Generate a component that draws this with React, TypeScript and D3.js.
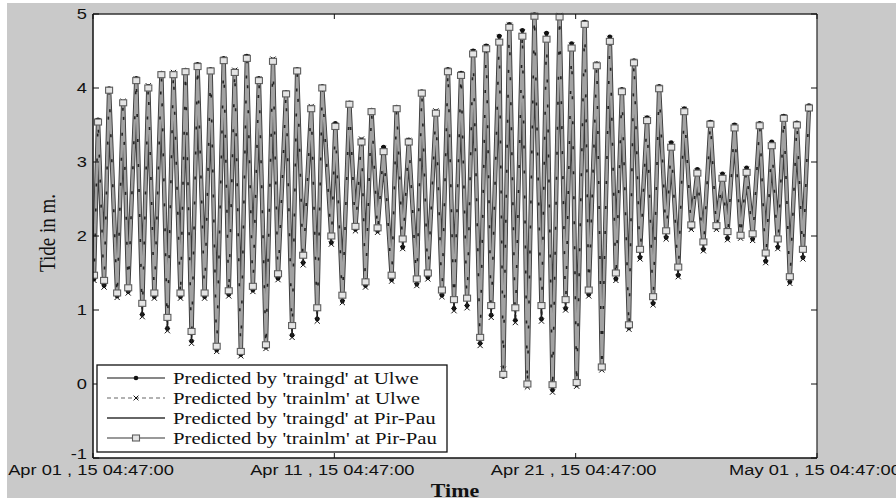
import React from "react";
import * as d3 from "d3";

// Times in hours after Apr 01, 15 04:47:00
const lowHours = [1, 11, 24, 35, 49, 61, 74, 87, 98, 111, 123, 135, 147, 159, 172, 184, 198, 209, 223, 237, 248, 261, 271, 283, 297, 308, 322, 333, 347, 359, 372, 385, 396, 408, 420, 432, 446, 457, 470, 481, 493, 506, 520, 533, 544, 557, 570, 582, 595, 607, 620, 631, 644, 656, 669, 681, 693, 706];
const highHours = [5, 16, 30, 43, 55, 68, 80, 92, 104, 117, 130, 141, 153, 165, 179, 192, 203, 217, 228, 241, 255, 267, 277, 289, 302, 314, 327, 341, 353, 366, 378, 391, 404, 414, 427, 439, 451, 464, 476, 489, 501, 514, 526, 538, 551, 563, 575, 588, 601, 614, 626, 638, 650, 663, 675, 687, 700, 712];

// Low-water values (m)
const lowUlweGd = [1.42, 1.33, 1.19, 1.25, 0.94, 1.18, 0.75, 1.18, 0.58, 1.18, 0.46, 1.21, 0.40, 1.27, 0.50, 1.43, 0.66, 1.64, 0.88, 1.91, 1.12, 2.09, 1.33, 2.07, 1.41, 1.85, 1.35, 1.44, 1.20, 1.02, 1.06, 0.55, 0.93, 0.10, 0.86, -0.02, 0.88, -0.08, 1.02, -0.01, 1.21, 0.21, 1.42, 0.76, 1.71, 1.09, 1.98, 1.47, 2.11, 1.82, 2.11, 1.97, 1.99, 1.96, 1.66, 1.85, 1.38, 1.71];
const lowUlweLm = [1.40, 1.31, 1.17, 1.23, 0.91, 1.16, 0.72, 1.16, 0.55, 1.16, 0.44, 1.19, 0.38, 1.25, 0.48, 1.41, 0.63, 1.61, 0.85, 1.89, 1.10, 2.07, 1.31, 2.05, 1.39, 1.83, 1.33, 1.42, 1.18, 0.99, 1.03, 0.52, 0.90, 0.20, 0.83, -0.04, 0.85, -0.11, 1.00, -0.03, 1.19, 0.19, 1.40, 0.74, 1.69, 1.07, 1.96, 1.45, 2.09, 1.80, 2.09, 1.95, 1.97, 1.94, 1.64, 1.83, 1.36, 1.69];
const lowPirPauGd = [1.45, 1.38, 1.21, 1.28, 1.05, 1.21, 0.86, 1.21, 0.68, 1.22, 0.49, 1.24, 0.43, 1.30, 0.52, 1.47, 0.75, 1.71, 0.99, 1.98, 1.18, 2.12, 1.36, 2.10, 1.45, 1.93, 1.40, 1.48, 1.25, 1.11, 1.13, 0.61, 1.02, 0.12, 0.99, 0.00, 1.02, -0.03, 1.11, 0.01, 1.25, 0.22, 1.48, 0.79, 1.79, 1.15, 2.05, 1.55, 2.14, 1.89, 2.13, 2.04, 2.00, 2.01, 1.74, 1.93, 1.43, 1.79];
const lowPirPauLm = [1.47, 1.40, 1.23, 1.30, 1.09, 1.23, 0.90, 1.23, 0.71, 1.23, 0.51, 1.26, 0.44, 1.32, 0.53, 1.49, 0.79, 1.74, 1.03, 2.00, 1.20, 2.13, 1.38, 2.11, 1.47, 1.96, 1.42, 1.50, 1.27, 1.14, 1.16, 0.63, 1.06, 0.13, 1.03, 0.00, 1.06, -0.01, 1.14, 0.02, 1.27, 0.23, 1.50, 0.80, 1.82, 1.18, 2.07, 1.58, 2.15, 1.92, 2.14, 2.06, 2.01, 2.03, 1.77, 1.96, 1.45, 1.82];

// High-water values (m)
const highUlweGd = [3.57, 3.99, 3.81, 4.13, 4.02, 4.20, 4.20, 4.24, 4.32, 4.25, 4.40, 4.23, 4.43, 4.13, 4.38, 3.94, 4.25, 3.74, 4.02, 3.52, 3.80, 3.30, 3.70, 3.20, 3.74, 3.30, 3.95, 3.68, 4.25, 4.20, 4.50, 4.57, 4.70, 4.86, 4.78, 4.99, 4.74, 4.97, 4.60, 4.89, 4.33, 4.69, 3.98, 4.37, 3.60, 4.02, 3.26, 3.72, 2.90, 3.54, 2.84, 3.50, 2.92, 3.52, 3.27, 3.62, 3.53, 3.76];
const highUlweLm = [3.56, 3.98, 3.82, 4.12, 4.03, 4.19, 4.21, 4.23, 4.31, 4.24, 4.39, 4.24, 4.42, 4.12, 4.39, 3.93, 4.24, 3.75, 4.01, 3.50, 3.79, 3.31, 3.69, 3.18, 3.73, 3.29, 3.94, 3.69, 4.24, 4.19, 4.49, 4.56, 4.68, 4.85, 4.76, 4.98, 4.72, 4.98, 4.58, 4.88, 4.32, 4.67, 3.97, 4.36, 3.59, 4.01, 3.24, 3.71, 2.88, 3.53, 2.82, 3.49, 2.90, 3.51, 3.25, 3.61, 3.52, 3.75];
const highPirPauGd = [3.55, 3.98, 3.80, 4.11, 4.01, 4.19, 4.19, 4.23, 4.30, 4.24, 4.38, 4.22, 4.41, 4.11, 4.37, 3.93, 4.24, 3.73, 4.01, 3.50, 3.79, 3.29, 3.69, 3.17, 3.73, 3.28, 3.94, 3.67, 4.23, 4.18, 4.48, 4.55, 4.66, 4.84, 4.74, 4.98, 4.70, 4.96, 4.57, 4.87, 4.31, 4.66, 3.96, 4.35, 3.58, 4.00, 3.23, 3.70, 2.87, 3.52, 2.81, 3.48, 2.89, 3.50, 3.24, 3.60, 3.51, 3.74];
const highPirPauLm = [3.54, 3.97, 3.80, 4.10, 4.00, 4.18, 4.18, 4.22, 4.29, 4.23, 4.37, 4.21, 4.40, 4.10, 4.36, 3.92, 4.23, 3.72, 4.00, 3.48, 3.78, 3.27, 3.68, 3.14, 3.72, 3.27, 3.93, 3.66, 4.22, 4.17, 4.46, 4.53, 4.62, 4.82, 4.70, 4.97, 4.66, 4.96, 4.54, 4.86, 4.30, 4.63, 3.95, 4.34, 3.56, 3.99, 3.20, 3.68, 2.85, 3.51, 2.78, 3.46, 2.86, 3.49, 3.22, 3.59, 3.50, 3.73];

const seriesNames = [
  "Predicted by 'traingd' at Ulwe",
  "Predicted by 'trainlm' at Ulwe",
  "Predicted by 'traingd' at Pir-Pau",
  "Predicted by 'trainlm' at Pir-Pau",
];
const yTicks = [-1, 0, 1, 2, 3, 4, 5];
const xTickDays = [0, 10, 20, 30];
const monthNames = ["Jan", "Feb", "Mar", "Apr", "May", "Jun"];

const START = new Date(2015, 3, 1, 4, 47, 0);
const HOUR = 3600 * 1000;

type Pt = { t: Date; v: number };
function merge(lows: number[], highs: number[]): Pt[] {
  const pts: Pt[] = [];
  lows.forEach((v, i) => pts.push({ t: new Date(START.getTime() + lowHours[i] * HOUR), v }));
  highs.forEach((v, i) => pts.push({ t: new Date(START.getTime() + highHours[i] * HOUR), v }));
  pts.sort((a, b) => a.t.getTime() - b.t.getTime());
  return pts;
}

const L = 93, R = 817, T = 14, B = 458;
const SX = 1.22;

function fmt(d: Date) {
  const dd = String(d.getDate()).padStart(2, "0");
  const hh = String(d.getHours()).padStart(2, "0");
  const mm = String(d.getMinutes()).padStart(2, "0");
  return `${monthNames[d.getMonth()]} ${dd} , ${String(d.getFullYear()).slice(2)} ${hh}:${mm}:00`;
}

export default function App() {
  const x = d3.scaleTime().domain([START, new Date(START.getTime() + 720 * HOUR)]).range([L, R]);
  const y = d3.scaleLinear().domain([-1, 5]).range([B, T]);
  const line = d3.line<Pt>().x((d) => x(d.t)).y((d) => y(d.v));

  const ulweGd = merge(lowUlweGd, highUlweGd);
  const ulweLm = merge(lowUlweLm, highUlweLm);
  const pirGd = merge(lowPirPauGd, highPirPauGd);
  const pirLm = merge(lowPirPauLm, highPirPauLm);

  const sans = "'Liberation Sans', Arial, sans-serif";
  const serif = "'Liberation Serif', 'Times New Roman', serif";

  const xMark = (cx: number, cy: number, k: string, s = 2.6) => (
    <path key={k} d={`M${cx - s},${cy - s}L${cx + s},${cy + s}M${cx - s},${cy + s}L${cx + s},${cy - s}`} stroke="#111" strokeWidth={1} />
  );
  const sq = (cx: number, cy: number, k: string) => (
    <rect key={k} x={cx - 3.5} y={cy - 3} width={7} height={6} fill="#e4e4e4" stroke="#5e5e5e" strokeWidth={1.1} />
  );

  const legendRows = [378, 398, 418, 438];

  return (
    <svg width={896} height={502} style={{ position: "absolute", left: 0, top: 0 }}>
      <rect x={0} y={0} width={896} height={502} fill="#fff" />
      <rect x={7} y={3} width={889} height={495} fill="#c9c9c9" />
      <rect x={L} y={T} width={R - L} height={B - T} fill="#fff" />
      <defs>
        <clipPath id="plotclip">
          <rect x={L} y={T - 4} width={R - L} height={B - T + 4} />
        </clipPath>
      </defs>
      <g clipPath="url(#plotclip)">
        <path d={line(ulweGd) || ""} fill="none" stroke="#111" strokeWidth={1.4} />
        {ulweGd.map((d, i) => <circle key={"a" + i} cx={x(d.t)} cy={y(d.v)} r={2.4} fill="#111" />)}
        <path d={line(ulweLm) || ""} fill="none" stroke="#222" strokeWidth={1.3} strokeDasharray="4,2" />
        {ulweLm.map((d, i) => xMark(x(d.t), y(d.v), "b" + i))}
        <path d={line(pirGd) || ""} fill="none" stroke="#3a3a3a" strokeWidth={4.4} strokeLinejoin="miter" strokeMiterlimit={1.5} />
        <path d={line(pirLm) || ""} fill="none" stroke="#a2a2a2" strokeWidth={2.6} strokeLinejoin="miter" strokeMiterlimit={1.5} />
        <path d={line(ulweLm) || ""} fill="none" stroke="#222" strokeWidth={1.6} strokeDasharray="3,22" strokeDashoffset={6} />
        {pirLm.map((d, i) => sq(x(d.t), y(d.v), "c" + i))}
      </g>

      {/* axes box */}
      <line x1={L} y1={T} x2={R} y2={T} stroke="#333" strokeWidth={1.3} />
      <line x1={R} y1={T} x2={R} y2={B} stroke="#333" strokeWidth={1.3} />
      <line x1={L} y1={T} x2={L} y2={B} stroke="#111" strokeWidth={1.5} />
      <line x1={L} y1={B} x2={R} y2={B} stroke="#111" strokeWidth={1.5} />

      {yTicks.map((t) => (
        <g key={"y" + t}>
          <line x1={L} x2={L + 6} y1={y(t)} y2={y(t)} stroke="#111" />
          <line x1={R - 6} x2={R} y1={y(t)} y2={y(t)} stroke="#111" />
          <text transform={`translate(${87},${y(t) + (t === -1 ? 1 : 5)}) scale(${SX},1)`} textAnchor="end" fontFamily={sans} fontSize={15} fill="#111">
            {t}
          </text>
        </g>
      ))}
      {xTickDays.map((dd) => {
        const d = new Date(START.getTime() + dd * 24 * HOUR);
        const px = x(d);
        return (
          <g key={"x" + dd}>
            <line x1={px} x2={px} y1={B} y2={B - 5} stroke="#111" />
            <line x1={px} x2={px} y1={T} y2={T + 5} stroke="#111" />
            <text transform={`translate(${px - 2},${475}) scale(${SX},1)`} textAnchor="middle" fontFamily={sans} fontSize={15} fill="#111">
              {fmt(d)}
            </text>
          </g>
        );
      })}

      <text transform={`translate(455,497) scale(${SX},1)`} textAnchor="middle" fontFamily={serif} fontWeight="bold" fontSize={18} fill="#111">
        Time
      </text>
      <text transform={`translate(55,233) scale(${SX},1) rotate(-90)`} textAnchor="middle" fontFamily={serif} fontSize={19} fill="#111">
        Tide in m.
      </text>

      {/* legend */}
      <rect x={97} y={365} width={350} height={87} fill="#fff" stroke="#111" strokeWidth={1.3} />
      {legendRows.map((ry, i) => (
        <g key={"lg" + i}>
          {i === 0 && (
            <>
              <line x1={107} x2={165} y1={ry} y2={ry} stroke="#111" strokeWidth={1.2} />
              <circle cx={136} cy={ry} r={2.3} fill="#111" />
            </>
          )}
          {i === 1 && (
            <>
              <line x1={107} x2={165} y1={ry} y2={ry} stroke="#666" strokeWidth={1.1} strokeDasharray="4,3" />
              {xMark(136, ry, "lx", 2.4)}
            </>
          )}
          {i === 2 && <line x1={107} x2={165} y1={ry} y2={ry} stroke="#333" strokeWidth={1.4} />}
          {i === 3 && (
            <>
              <line x1={107} x2={165} y1={ry} y2={ry} stroke="#777" strokeWidth={1.3} />
              {sq(136, ry, "ls")}
            </>
          )}
          <text transform={`translate(173,${ry + 6}) scale(${SX},1)`} fontFamily={serif} fontSize={17} fill="#111">
            {seriesNames[i]}
          </text>
        </g>
      ))}
    </svg>
  );
}
